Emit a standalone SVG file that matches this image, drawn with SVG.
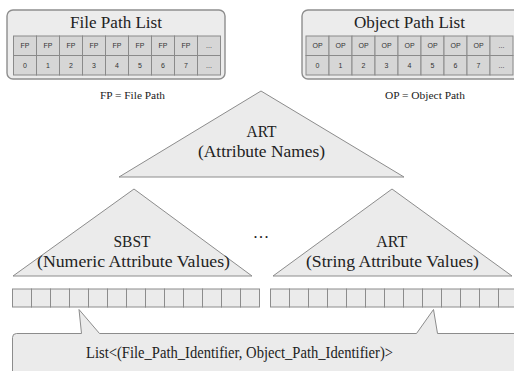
<svg xmlns="http://www.w3.org/2000/svg" width="514" height="371" viewBox="0 0 514 371">
<defs>
<style>
.box{fill:#ececec;stroke:#8e8e8e;stroke-width:1.4}
.cell{fill:#d6d6d6;stroke:#8a8a8a;stroke-width:1}
.ct{font-family:"Liberation Sans",Arial,sans-serif;font-size:7px;fill:#333;text-anchor:middle}
.shape{fill:#ebebeb;stroke:#8c8c8c;stroke-width:1;stroke-linejoin:round}
.acell{fill:#ebebeb;stroke:#8c8c8c;stroke-width:1}
.serif{font-family:"Liberation Serif","Times New Roman",serif;fill:#222;text-anchor:middle}
.title{font-size:16px}
.big{font-size:16.5px}
.cap{font-size:10px}
</style>
</defs>

<g id="file-path-list">
<rect class="box" x="7" y="10" width="218" height="69" rx="6"/>
<text class="serif title" x="116" y="28" textLength="92" lengthAdjust="spacingAndGlyphs">File Path List</text>
<g>
<rect class="cell" x="13.5" y="36" width="23" height="19.5"/><rect class="cell" x="36.5" y="36" width="23" height="19.5"/><rect class="cell" x="59.5" y="36" width="23" height="19.5"/><rect class="cell" x="82.5" y="36" width="23" height="19.5"/><rect class="cell" x="105.5" y="36" width="23" height="19.5"/><rect class="cell" x="128.5" y="36" width="23" height="19.5"/><rect class="cell" x="151.5" y="36" width="23" height="19.5"/><rect class="cell" x="174.5" y="36" width="23" height="19.5"/><rect class="cell" x="197.5" y="36" width="23" height="19.5"/>
<rect class="cell" x="13.5" y="55.5" width="23" height="19.5"/><rect class="cell" x="36.5" y="55.5" width="23" height="19.5"/><rect class="cell" x="59.5" y="55.5" width="23" height="19.5"/><rect class="cell" x="82.5" y="55.5" width="23" height="19.5"/><rect class="cell" x="105.5" y="55.5" width="23" height="19.5"/><rect class="cell" x="128.5" y="55.5" width="23" height="19.5"/><rect class="cell" x="151.5" y="55.5" width="23" height="19.5"/><rect class="cell" x="174.5" y="55.5" width="23" height="19.5"/><rect class="cell" x="197.5" y="55.5" width="23" height="19.5"/>
</g>
<g>
<text class="ct" x="25" y="48.3">FP</text><text class="ct" x="48" y="48.3">FP</text><text class="ct" x="71" y="48.3">FP</text><text class="ct" x="94" y="48.3">FP</text><text class="ct" x="117" y="48.3">FP</text><text class="ct" x="140" y="48.3">FP</text><text class="ct" x="163" y="48.3">FP</text><text class="ct" x="186" y="48.3">FP</text><text class="ct" x="209" y="48.3">...</text>
<text class="ct" x="25" y="67.8">0</text><text class="ct" x="48" y="67.8">1</text><text class="ct" x="71" y="67.8">2</text><text class="ct" x="94" y="67.8">3</text><text class="ct" x="117" y="67.8">4</text><text class="ct" x="140" y="67.8">5</text><text class="ct" x="163" y="67.8">6</text><text class="ct" x="186" y="67.8">7</text><text class="ct" x="209" y="67.8">...</text>
</g>
</g>

<g id="object-path-list">
<rect class="box" x="302" y="10" width="218" height="69" rx="6"/>
<text class="serif title" x="409.5" y="28" textLength="111" lengthAdjust="spacingAndGlyphs">Object Path List</text>
<g>
<rect class="cell" x="306" y="36" width="23" height="19.5"/><rect class="cell" x="329" y="36" width="23" height="19.5"/><rect class="cell" x="352" y="36" width="23" height="19.5"/><rect class="cell" x="375" y="36" width="23" height="19.5"/><rect class="cell" x="398" y="36" width="23" height="19.5"/><rect class="cell" x="421" y="36" width="23" height="19.5"/><rect class="cell" x="444" y="36" width="23" height="19.5"/><rect class="cell" x="467" y="36" width="23" height="19.5"/><rect class="cell" x="490" y="36" width="23" height="19.5"/>
<rect class="cell" x="306" y="55.5" width="23" height="19.5"/><rect class="cell" x="329" y="55.5" width="23" height="19.5"/><rect class="cell" x="352" y="55.5" width="23" height="19.5"/><rect class="cell" x="375" y="55.5" width="23" height="19.5"/><rect class="cell" x="398" y="55.5" width="23" height="19.5"/><rect class="cell" x="421" y="55.5" width="23" height="19.5"/><rect class="cell" x="444" y="55.5" width="23" height="19.5"/><rect class="cell" x="467" y="55.5" width="23" height="19.5"/><rect class="cell" x="490" y="55.5" width="23" height="19.5"/>
</g>
<g>
<text class="ct" x="317.5" y="48.3">OP</text><text class="ct" x="340.5" y="48.3">OP</text><text class="ct" x="363.5" y="48.3">OP</text><text class="ct" x="386.5" y="48.3">OP</text><text class="ct" x="409.5" y="48.3">OP</text><text class="ct" x="432.5" y="48.3">OP</text><text class="ct" x="455.5" y="48.3">OP</text><text class="ct" x="478.5" y="48.3">OP</text><text class="ct" x="501.5" y="48.3">...</text>
<text class="ct" x="317.5" y="67.8">0</text><text class="ct" x="340.5" y="67.8">1</text><text class="ct" x="363.5" y="67.8">2</text><text class="ct" x="386.5" y="67.8">3</text><text class="ct" x="409.5" y="67.8">4</text><text class="ct" x="432.5" y="67.8">5</text><text class="ct" x="455.5" y="67.8">6</text><text class="ct" x="478.5" y="67.8">7</text><text class="ct" x="501.5" y="67.8">...</text>
</g>
</g>

<g id="legends">
<text class="serif cap" x="132.5" y="99" textLength="65" lengthAdjust="spacingAndGlyphs">FP = File Path</text>
<text class="serif cap" x="425" y="99" textLength="80" lengthAdjust="spacingAndGlyphs">OP = Object Path</text>
</g>

<g id="art-names">
<polygon class="shape" points="261,91 404,177 119,177"/>
<text class="serif big" x="261.5" y="136.5" textLength="30" lengthAdjust="spacingAndGlyphs">ART</text>
<text class="serif big" x="261.5" y="156.5" textLength="127" lengthAdjust="spacingAndGlyphs">(Attribute Names)</text>
</g>

<g id="sbst-numeric">
<polygon class="shape" points="134,189 252,276 13,276"/>
<text class="serif big" x="132" y="246.5" textLength="37" lengthAdjust="spacingAndGlyphs">SBST</text>
<text class="serif big" x="133.5" y="266.5" textLength="193" lengthAdjust="spacingAndGlyphs">(Numeric Attribute Values)</text>
</g>

<g id="ellipsis">
<text class="serif big" x="261" y="238">…</text>
</g>

<g id="art-string">
<polygon class="shape" points="392,189 512,276 273,276"/>
<text class="serif big" x="391.7" y="246.5" textLength="31" lengthAdjust="spacingAndGlyphs">ART</text>
<text class="serif big" x="392.5" y="266.5" textLength="173" lengthAdjust="spacingAndGlyphs">(String Attribute Values)</text>
</g>

<g id="array-left">
<rect class="acell" x="12.5" y="289" width="19" height="18"/><rect class="acell" x="31.5" y="289" width="19" height="18"/><rect class="acell" x="50.5" y="289" width="19" height="18"/><rect class="acell" x="69.5" y="289" width="19" height="18"/><rect class="acell" x="88.5" y="289" width="19" height="18"/><rect class="acell" x="107.5" y="289" width="19" height="18"/><rect class="acell" x="126.5" y="289" width="19" height="18"/><rect class="acell" x="145.5" y="289" width="19" height="18"/><rect class="acell" x="164.5" y="289" width="19" height="18"/><rect class="acell" x="183.5" y="289" width="19" height="18"/><rect class="acell" x="202.5" y="289" width="19" height="18"/><rect class="acell" x="221.5" y="289" width="19" height="18"/><rect class="acell" x="240.5" y="289" width="19" height="18"/>
</g>

<g id="array-right">
<rect class="acell" x="270.5" y="289" width="19" height="18"/><rect class="acell" x="289.5" y="289" width="19" height="18"/><rect class="acell" x="308.5" y="289" width="19" height="18"/><rect class="acell" x="327.5" y="289" width="19" height="18"/><rect class="acell" x="346.5" y="289" width="19" height="18"/><rect class="acell" x="365.5" y="289" width="19" height="18"/><rect class="acell" x="384.5" y="289" width="19" height="18"/><rect class="acell" x="403.5" y="289" width="19" height="18"/><rect class="acell" x="422.5" y="289" width="19" height="18"/><rect class="acell" x="441.5" y="289" width="19" height="18"/><rect class="acell" x="460.5" y="289" width="19" height="18"/><rect class="acell" x="479.5" y="289" width="19" height="18"/><rect class="acell" x="498.5" y="289" width="19" height="18"/>
</g>

<g id="connectors">
<path class="shape" d="M12.5,380 L12.5,337.5 Q12.5,333.5 16.5,333.5 L81.5,333.5 L79,309.5 L99.5,333.5 L416.5,333.5 L433.5,309.5 L437.5,333.5 L522,333.5 L522,380 Z"/>
</g>

<g id="id-list">
<text class="serif big" x="239.5" y="358" textLength="307" lengthAdjust="spacingAndGlyphs">List&lt;(File_Path_Identifier, Object_Path_Identifier)&gt;</text>
</g>
</svg>
